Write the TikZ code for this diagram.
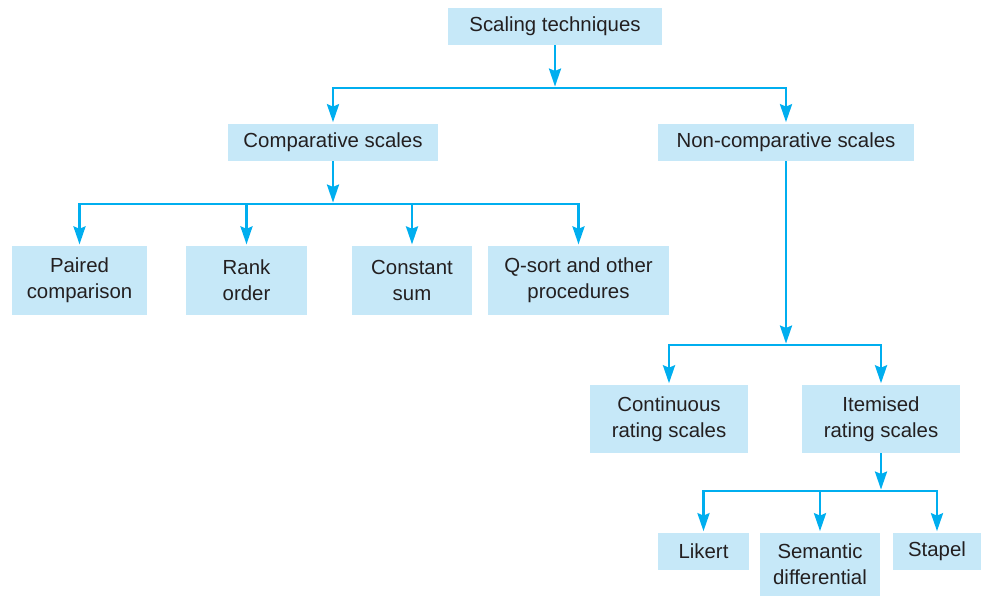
\documentclass[tikz,border=0pt]{standalone}
\usepackage{fontspec}
\setmainfont{Liberation Sans}
\usetikzlibrary{arrows.meta}
\definecolor{boxfill}{RGB}{198,232,248}
\definecolor{linecol}{RGB}{0,174,239}
\definecolor{textcol}{RGB}{35,31,32}
\tikzset{
  box/.style={fill=boxfill,text=textcol,inner sep=0pt,align=center,
    minimum height=0.93cm,font=\fontsize{14.5}{18.6}\selectfont},
  tall/.style={box,minimum height=1.72cm},
  arr/.style={linecol,line width=1.9pt,shorten >=1pt,
    -{Stealth[length=0.45cm,width=0.3cm,inset=0.06cm]}},
  bus/.style={linecol,line width=1.9pt}
}
\begin{document}
\begin{tikzpicture}[x=0.025cm,y=-0.025cm]
  \useasboundingbox (0,0) rectangle (982,597);
  \node[box,minimum width=5.33cm] at (555,26.5) (scal) {Scaling techniques};
  \node[box,minimum width=5.25cm] at (333,142.5) (comp) {Comparative scales};
  \node[box,minimum width=6.4cm] at (786,142.5) (noncomp) {Non-comparative scales};

  \node[tall,minimum width=3.38cm] at (79.5,280.5) (paired) {Paired\\comparison};
  \node[tall,minimum width=3.03cm] at (246.5,280.5) (rank) {Rank\\order};
  \node[tall,minimum width=3.0cm] at (412,280.5) (const) {Constant\\sum};
  \node[tall,minimum width=4.53cm] at (578.5,280.5) (qsort) {Q-sort and other\\procedures};

  \node[tall,minimum width=3.95cm,minimum height=1.7cm] at (669,419) (cont) {Continuous\\rating scales};
  \node[tall,minimum width=3.95cm,minimum height=1.7cm] at (881,419) (item) {Itemised\\rating scales};

  \node[box,minimum width=2.28cm] at (703.5,551.5) (likert) {Likert};
  \node[tall,minimum width=3.0cm,minimum height=1.58cm] at (820,564.5) (sem) {Semantic\\differential};
  \node[box,minimum width=2.2cm] at (937,551.5) (stapel) {Stapel};

  % bus points
  \coordinate (b1) at (555,88);
  \coordinate (b2) at (333,204);
  \coordinate (b3) at (786,345);
  \coordinate (b4) at (881,491);

  % draw edges
  \draw[arr] (scal) -- (b1);
  \draw[arr] (b1) -| (comp);
  \draw[arr] (b1) -| (noncomp);

  \draw[arr] (comp) -- (b2);
  \draw[arr] (b2) -| (paired);
  \draw[arr] (b2) -| (qsort);
  \draw[arr] (rank |- b2) -- (rank);
  \draw[arr] (const |- b2) -- (const);

  \draw[arr] (noncomp) -- (b3);
  \draw[arr] (b3) -| (cont);
  \draw[arr] (b3) -| (item);

  \draw[arr] (item) -- (b4);
  \draw[arr] (b4) -| (likert);
  \draw[arr] (b4) -| (stapel);
  \draw[arr] (sem |- b4) -- (sem);
\end{tikzpicture}
\end{document}
